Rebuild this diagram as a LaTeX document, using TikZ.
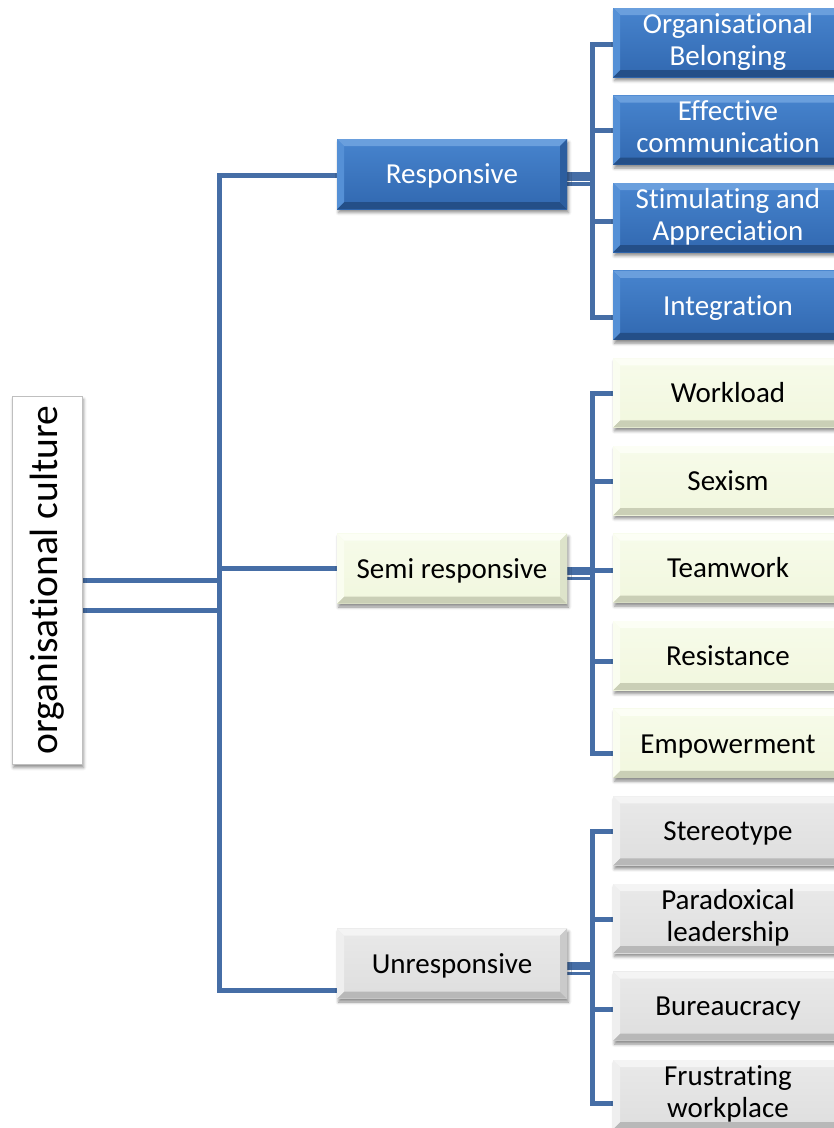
\documentclass[tikz,border=0pt]{standalone}
\usepackage{fontspec}
\setmainfont{Carlito}[Ligatures={NoCommon,NoContextual,NoRequired},
  Contextuals=NoAlternate, RawFeature={-liga;-clig;-dlig}]
\usetikzlibrary{shadows.blur,calc}

\definecolor{connblue}{HTML}{466EA6}
% blue boxes: face top/bottom, bevel top/left/right/bottom
\definecolor{blueF1}{HTML}{4784CE}
\definecolor{blueF2}{HTML}{3168B0}
\definecolor{blueT}{HTML}{6A9FDD}
\definecolor{blueL}{HTML}{5590D6}
\definecolor{blueR}{HTML}{2C5E9F}
\definecolor{blueB}{HTML}{244F88}
% pale green boxes
\definecolor{greenF1}{HTML}{F7FBEA}
\definecolor{greenF2}{HTML}{F1F7DE}
\definecolor{greenT}{HTML}{FCFEF5}
\definecolor{greenL}{HTML}{FAFDF0}
\definecolor{greenR}{HTML}{DDE3CA}
\definecolor{greenB}{HTML}{CACFB6}
% grey boxes
\definecolor{greyF1}{HTML}{E9E9E9}
\definecolor{greyF2}{HTML}{DEDEDE}
\definecolor{greyT}{HTML}{F4F4F4}
\definecolor{greyL}{HTML}{EFEFEF}
\definecolor{greyR}{HTML}{CACACA}
\definecolor{greyB}{HTML}{B8B8B8}

\pgfdeclarelayer{bg}
\pgfsetlayers{bg,main}

% fixed line box so that every label sits on the same baseline grid
\newcommand{\linebox}{\rule[-6.2pt]{0pt}{32pt}}

\tikzset{
  conn/.style={draw=connblue, line width=5pt, line cap=rect, line join=miter},
  shadowed/.style={blur shadow={shadow xshift=1.5pt, shadow yshift=-3.5pt,
      shadow blur radius=3pt, shadow opacity=45}},
  bevelled/.style={shadowed, top color=#1F1, bottom color=#1F2, inner sep=0pt,
    path picture={
      \path (path picture bounding box.north west) coordinate (pNW)
            (path picture bounding box.north east) coordinate (pNE)
            (path picture bounding box.south west) coordinate (pSW)
            (path picture bounding box.south east) coordinate (pSE);
      \fill[#1T] (pNW) -- (pNE) -- ([shift={(-7pt,-7pt)}]pNE) -- ([shift={(7pt,-7pt)}]pNW) -- cycle;
      \fill[#1B] (pSW) -- (pSE) -- ([shift={(-7pt,7pt)}]pSE) -- ([shift={(7pt,7pt)}]pSW) -- cycle;
      \fill[#1L] (pNW) -- ([shift={(7pt,-7pt)}]pNW) -- ([shift={(7pt,7pt)}]pSW) -- (pSW) -- cycle;
      \fill[#1R] (pNE) -- ([shift={(-7pt,-7pt)}]pNE) -- ([shift={(-7pt,7pt)}]pSE) -- (pSE) -- cycle;
    }},
  labelled/.style={font=\fontsize{29}{32}\selectfont, align=center,
    execute at begin node={\linebox}, execute at end node={\linebox}},
  midbox/.style={bevelled=#1, labelled, minimum width=230, minimum height=70},
  leafbox/.style={bevelled=#1, labelled, minimum width=230, minimum height=69},
  rootbox/.style={shadowed, draw=black!25, line width=1pt, fill=white,
    rotate=90, minimum width=368, minimum height=70, inner sep=0pt,
    font=\fontsize{39.5}{44}\selectfont},
}

\begin{document}
\begin{tikzpicture}[x=1pt,y=-1pt]
\useasboundingbox (0,0) rectangle (834,1128);
\clip (0,0) rectangle (834,1128);

% root
\node[rootbox] (oc) at (47,580) {organisational culture};

% second level
\node[midbox=blue, text=white] (resp) at (452,174) {Responsive};
\node[midbox=green] (semi) at (452,568.5) {Semi responsive};
\node[midbox=grey] (unresp) at (452,963.5) {Unresponsive};

% leaves of the responsive branch
\node[leafbox=blue, text=white] (r1) at (728,42.5) {Organisational\\Belonging};
\node[leafbox=blue, text=white] (r2) at (728,130.1) {Effective\\communication};
\node[leafbox=blue, text=white] (r3) at (728,217.7) {Stimulating and\\Appreciation};
\node[leafbox=blue, text=white] (r4) at (728,305.3) {Integration};

% leaves of the semi responsive branch
\node[leafbox=green] (s1) at (728,392.9) {Workload};
\node[leafbox=green] (s2) at (728,480.5) {Sexism};
\node[leafbox=green] (s3) at (728,568.1) {Teamwork};
\node[leafbox=green] (s4) at (728,655.7) {Resistance};
\node[leafbox=green] (s5) at (728,743.3) {Empowerment};

% leaves of the unresponsive branch
\node[leafbox=grey] (u1) at (728,830.9) {Stereotype};
\node[leafbox=grey] (u2) at (728,918.5) {Paradoxical\\leadership};
\node[leafbox=grey] (u3) at (728,1006.1) {Bureaucracy};
\node[leafbox=grey] (u4) at (728,1094.5) {Frustrating\\workplace};

% junction points
\coordinate (t1) at (219,175.5);
\coordinate (t2) at (219,568.5);
\coordinate (t3) at (219,990.5);
\coordinate (j1) at (219,580.5);
\coordinate (j2) at (219,610);

\coordinate (br1) at (592,44.5);
\coordinate (br2) at (592,130.5);
\coordinate (br3) at (592,221);
\coordinate (br4) at (592,317);
\coordinate (bs1) at (592,393.5);
\coordinate (bs2) at (592,481.5);
\coordinate (bs3) at (592,570);
\coordinate (bs4) at (592,661);
\coordinate (bs5) at (592,753);
\coordinate (bu1) at (592,831.5);
\coordinate (bu2) at (592,919.5);
\coordinate (bu3) at (592,1009.5);
\coordinate (bu4) at (592,1103.5);

\begin{pgfonlayer}{bg}
  % root to trunk
  \draw[conn, line cap=butt] (oc.south |- j1) -- (j1);
  \draw[conn, line cap=butt] (oc.south |- j2) -- (j2);
  % trunk and branches
  \draw[conn] (resp.west |- t1) -- (t1) -- (t3) -- (unresp.west |- t3);
  \draw[conn] (t2) -- (semi.west);

  % double connectors from second level to the buses
  \foreach \m/\b in {resp/br2, semi/bs3, unresp/bu2}{
    \draw[connblue, line width=13.5pt]
      ([yshift=-5pt]\m.east) -- ([yshift=-5pt]\m.east -| \b);
    \draw[white, line width=1.4pt, shorten >=2.5pt]
      ([yshift=-7.6pt]\m.east) -- ([yshift=-7.6pt]\m.east -| \b);
  }

  % buses
  \draw[conn] (br1) -- (br4);
  \draw[conn] (bs1) -- (bs5);
  \draw[conn] (bu1) -- (bu4);

  % bus to leaves
  \foreach \b/\l in {br1/r1, br2/r2, br3/r3, br4/r4,
                     bs1/s1, bs2/s2, bs3/s3, bs4/s4, bs5/s5,
                     bu1/u1, bu2/u2, bu3/u3, bu4/u4}{
    \draw[conn] (\b) -- (\l.west |- \b);
  }
\end{pgfonlayer}
\end{tikzpicture}
\end{document}
